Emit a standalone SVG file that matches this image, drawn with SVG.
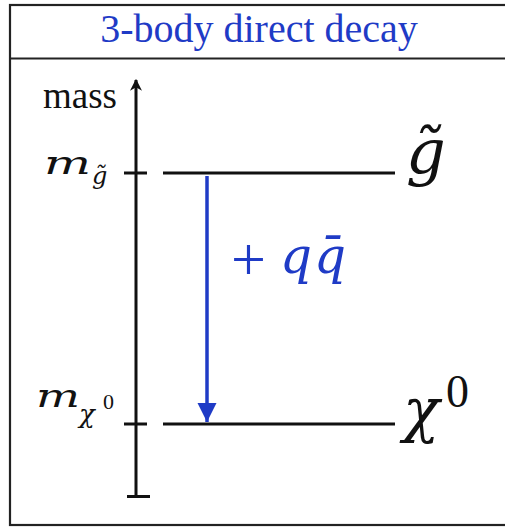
<svg xmlns="http://www.w3.org/2000/svg" width="505" height="527" viewBox="0 0 505 527">
<defs>
<style>
.frame{fill:none;stroke:#222;stroke-width:2.2}
.axis{stroke:#111;stroke-width:3;fill:none}
.level{stroke:#111;stroke-width:3.2;fill:none}
.serif{font-family:"Liberation Serif","Times New Roman",serif}
.it{font-family:"DejaVu Serif",serif;font-style:italic}
.blue{fill:#1f3bc6}
.blk{fill:#111}
</style>
<marker id="ah" viewBox="0 0 10 10" refX="10" refY="5" markerWidth="5.5" markerHeight="5.5" orient="auto" markerUnits="strokeWidth">
<path d="M0,0 L10,5 L0,10 Z" fill="#1f3bc6"/>
</marker>
<marker id="axh" viewBox="0 0 10 10" refX="9" refY="5" markerWidth="4" markerHeight="4" orient="auto" markerUnits="strokeWidth">
<path d="M0,0 L10,5 L0,10 L3,5 Z" fill="#111"/>
</marker>
</defs>
<rect x="0" y="0" width="505" height="527" fill="#fff"/>
<g id="frame">
<rect class="frame" x="10" y="5" width="510" height="520"/>
<line class="frame" x1="10" y1="58.5" x2="520" y2="58.5"/>
<text class="serif blue" x="259" y="42" font-size="40" text-anchor="middle">3-body direct decay</text>
</g>
<g id="axis">
<line class="axis" x1="136" y1="497" x2="136" y2="80" marker-end="url(#axh)"/>
<line class="axis" x1="127" y1="496.5" x2="150" y2="496.5"/>
<text class="serif blk" x="43" y="108" font-size="37">mass</text>
</g>
<g id="gluino">
<line class="axis" x1="124" y1="173" x2="147" y2="173"/>
<line class="level" x1="163" y1="173" x2="395" y2="173"/>
<text class="it blk" x="44" y="174" font-size="32" textLength="47" lengthAdjust="spacingAndGlyphs">m</text>
<text class="it blk" x="92" y="184" font-size="24">g̃</text>
<text class="it blk" x="406" y="173" font-size="62">g̃</text>
</g>
<g id="neutralino">
<line class="axis" x1="124" y1="424" x2="147" y2="424"/>
<line class="level" x1="163" y1="424" x2="395" y2="424"/>
<text class="it blk" x="36" y="407" font-size="32" textLength="44" lengthAdjust="spacingAndGlyphs">m</text>
<text class="it blk" x="79" y="423" font-size="26">χ</text>
<text class="serif blk" x="103" y="409" font-size="22">0</text>
<text class="it blk" x="403" y="431" font-size="60">χ</text>
<text class="serif blk" x="446" y="407" font-size="46">0</text>
</g>
<g id="connectors">
<line x1="207" y1="176" x2="207" y2="422" stroke="#1f3bc6" stroke-width="3.5" marker-end="url(#ah)"/>
<text class="serif blue" x="231" y="280" font-size="62">+</text>
<text class="it blue" x="280" y="273" font-size="50">q</text>
<text class="it blue" x="314" y="273" font-size="50">q̄</text>
</g>
</svg>
